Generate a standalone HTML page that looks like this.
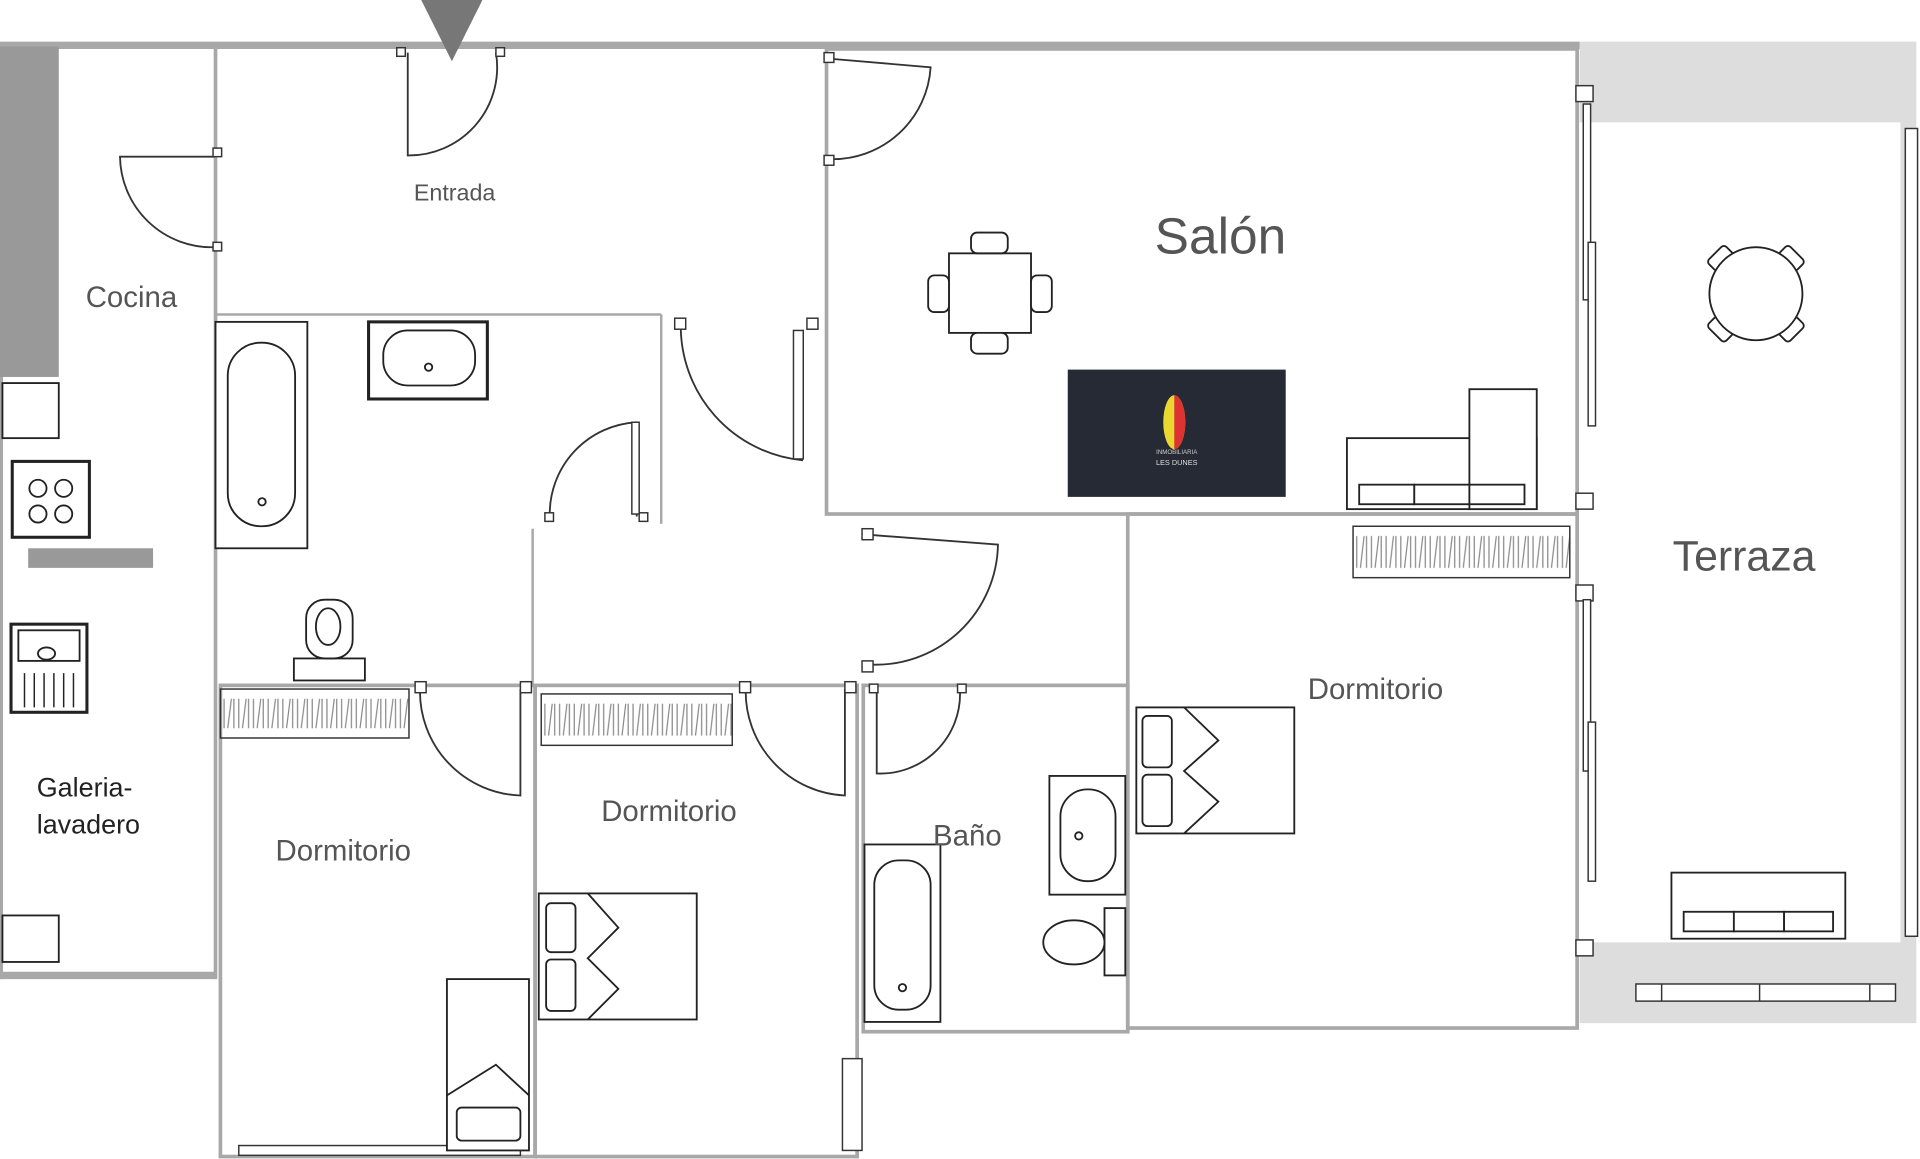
<!DOCTYPE html>
<html><head><meta charset="utf-8"><style>
html,body{margin:0;padding:0;background:#fff;}
svg{display:block}
text{font-family:"Liberation Sans",sans-serif;fill:#555}
</style></head><body>
<svg width="1920" height="1159" viewBox="0 0 1568 947" preserveAspectRatio="none" xmlns="http://www.w3.org/2000/svg">
<defs>
<pattern id="zz1" x="180" y="563" width="12" height="40" patternUnits="userSpaceOnUse">
<path d="M3 8 L3 32 M6 32 L9 8 M11 8 L11 32" stroke="#888" stroke-width="1" fill="none"/>
</pattern>
<pattern id="zz2" x="442" y="567" width="12" height="42" patternUnits="userSpaceOnUse">
<path d="M3 8 L3 34 M6 34 L9 8 M11 8 L11 34" stroke="#888" stroke-width="1" fill="none"/>
</pattern>
<pattern id="zz3" x="1105" y="430" width="12" height="42" patternUnits="userSpaceOnUse">
<path d="M3 8 L3 34 M6 34 L9 8 M11 8 L11 34" stroke="#888" stroke-width="1" fill="none"/>
</pattern>
</defs>
<rect x="1290" y="34" width="275" height="802" fill="#ddd"/>
<rect x="1305" y="100" width="247" height="670" fill="#fff"/>
<rect x="1290" y="100" width="15" height="670" fill="#fff"/>
<g fill="none" stroke="#a8a8a8" stroke-width="3">
<line x1="0" y1="37" x2="1290" y2="37" stroke-width="6"/>
<rect x="675" y="40" width="613" height="380"/>
<rect x="921" y="420" width="367" height="420"/>
<rect x="705" y="560" width="216" height="283"/>
<rect x="437" y="560" width="263" height="385"/>
<rect x="180" y="560" width="257" height="385"/>
<line x1="176" y1="37" x2="176" y2="800"/>
<line x1="0" y1="797" x2="176" y2="797" stroke-width="6"/>
<line x1="1" y1="37" x2="1" y2="800"/>
<line x1="176" y1="257" x2="540" y2="257" stroke-width="2"/>
<line x1="540" y1="257" x2="540" y2="428" stroke-width="2"/>
<line x1="435" y1="432" x2="435" y2="560" stroke-width="2"/>
<line x1="705" y1="560" x2="921" y2="560" stroke-width="2"/>
</g>
<rect x="0" y="38" width="48" height="270" fill="#999"/>
<rect x="23" y="448" width="102" height="16" fill="#999"/>
<polygon points="344,0 394,0 369,50" fill="#777"/>
<g fill="none" stroke="#333" stroke-width="1.5">
<path d="M333 43 L333 127 A72 72 0 0 0 405 43"/>
<path d="M175 128 L98 128 A75 75 0 0 0 175 202"/>
<path d="M678 48 L760 55 A80 80 0 0 1 678 130"/>
<path d="M556 264 A110 110 0 0 0 655 376 L655 270"/>
<path d="M520 345 L520 422 M520 345 A75 75 0 0 0 449 422"/>
<path d="M710 437 L815 445 A100 100 0 0 1 710 543"/>
<path d="M343 563 A85 85 0 0 0 425 650 L425 563"/>
<path d="M609 563 A85 85 0 0 0 690 650 L690 563"/>
<path d="M716 565 L716 632 A65 65 0 0 0 784 565"/>
</g>
<g fill="#fff" stroke="#333" stroke-width="1.2">
<rect x="324" y="39" width="7" height="7"/><rect x="405" y="39" width="7" height="7"/>
<rect x="174" y="121" width="7" height="7"/><rect x="174" y="198" width="7" height="7"/>
<rect x="673" y="43" width="8" height="8"/><rect x="673" y="127" width="8" height="8"/>
<rect x="551" y="260" width="9" height="9"/><rect x="659" y="260" width="9" height="9"/>
<rect x="445" y="419" width="7" height="7"/><rect x="522" y="419" width="7" height="7"/>
<rect x="704" y="432" width="9" height="9"/><rect x="704" y="540" width="9" height="9"/>
<rect x="339" y="557" width="9" height="9"/><rect x="425" y="557" width="9" height="9"/>
<rect x="604" y="557" width="9" height="9"/><rect x="690" y="557" width="9" height="9"/>
<rect x="710" y="559" width="7" height="7"/><rect x="782" y="559" width="7" height="7"/>
<rect x="1287" y="70" width="14" height="13"/><rect x="1287" y="403" width="14" height="13"/>
<rect x="1287" y="478" width="14" height="13"/><rect x="1287" y="768" width="14" height="13"/>
<rect x="648" y="270" width="8" height="105"/><rect x="516" y="345" width="6" height="75"/>
<rect x="1293" y="85" width="6" height="160"/><rect x="1297" y="198" width="6" height="150"/>
<rect x="1293" y="490" width="6" height="140"/><rect x="1297" y="590" width="6" height="130"/>
<rect x="1556" y="105" width="10" height="660"/>
<rect x="1336" y="804" width="212" height="14"/>
<line x1="1357" y1="804" x2="1357" y2="818"/><line x1="1437" y1="804" x2="1437" y2="818"/><line x1="1527" y1="804" x2="1527" y2="818"/>
<rect x="688" y="865" width="16" height="75"/>
<rect x="195" y="936" width="230" height="8"/>
</g>
<g stroke="#333" stroke-width="1.2">
<rect x="180" y="563" width="154" height="40" fill="url(#zz1)"/>
<rect x="442" y="567" width="156" height="42" fill="url(#zz2)"/>
<rect x="1105" y="430" width="177" height="42" fill="url(#zz3)"/>
</g>
<g fill="#fff" stroke="#222" stroke-width="1.5">
<rect x="176" y="263" width="75" height="185"/><rect x="186" y="280" width="55" height="150" rx="27"/>
<circle cx="214" cy="410" r="3"/>
<rect x="301" y="263" width="97" height="63" stroke-width="2.5"/><rect x="313" y="270" width="75" height="45" rx="20"/><circle cx="350" cy="300" r="3"/>
<rect x="240" y="538" width="58" height="18"/><rect x="250" y="490" width="38" height="48" rx="15"/><ellipse cx="268" cy="512" rx="10" ry="15"/>
<rect x="775" y="207" width="67" height="65"/><rect x="793" y="190" width="30" height="17" rx="5"/><rect x="793" y="272" width="30" height="17" rx="5"/>
<rect x="758" y="225" width="17" height="30" rx="5"/><rect x="842" y="225" width="17" height="30" rx="5"/>
<rect x="1100" y="358" width="155" height="58"/><rect x="1200" y="318" width="55" height="98"/>
<rect x="1110" y="396" width="45" height="16"/><rect x="1155" y="396" width="45" height="16"/><rect x="1200" y="396" width="45" height="16"/>
<g transform="rotate(45 1434 240)">
<rect x="1424" y="193" width="20" height="12" rx="3"/><rect x="1424" y="275" width="20" height="12" rx="3"/>
<rect x="1387" y="230" width="12" height="20" rx="3"/><rect x="1469" y="230" width="12" height="20" rx="3"/>
</g>
<circle cx="1434" cy="240" r="38"/>
<rect x="1365" y="713" width="142" height="54"/>
<rect x="1375" y="745" width="41" height="16"/><rect x="1416" y="745" width="41" height="16"/><rect x="1457" y="745" width="40" height="16"/>
<rect x="928" y="578" width="129" height="103"/><rect x="933" y="585" width="24" height="42" rx="4"/><rect x="933" y="633" width="24" height="42" rx="4"/><path d="M967 578 L995 605 L967 630 L995 655 L967 681"/>
<rect x="440" y="730" width="129" height="103"/><rect x="446" y="738" width="24" height="40" rx="4"/><rect x="446" y="784" width="24" height="42" rx="4"/><path d="M480 730 L505 758 L480 783 L505 808 L480 833"/>
<rect x="365" y="800" width="67" height="140"/><rect x="373" y="905" width="52" height="27" rx="4"/><path d="M365 895 L405 870 L432 895"/>
<rect x="706" y="690" width="62" height="145"/><rect x="714" y="703" width="46" height="122" rx="20"/><circle cx="737" cy="807" r="3"/>
<rect x="857" y="634" width="62" height="97"/><rect x="866" y="645" width="45" height="75" rx="22"/><circle cx="881" cy="683" r="3"/>
<rect x="902" y="742" width="17" height="55"/><ellipse cx="877" cy="770" rx="25" ry="18"/>
<rect x="10" y="377" width="63" height="62" stroke-width="2.5"/><circle cx="31" cy="399" r="7"/><circle cx="52" cy="399" r="7"/><circle cx="31" cy="420" r="7"/><circle cx="52" cy="420" r="7"/>
<rect x="9" y="510" width="62" height="72" stroke-width="2.5"/><rect x="15" y="515" width="50" height="25"/><ellipse cx="38" cy="534" rx="7" ry="5"/>
<rect x="2" y="313" width="46" height="45"/><rect x="2" y="748" width="46" height="38"/>
</g>
<g stroke="#222" stroke-width="1.2"><path d="M20 550 V578 M28 550 V578 M36 550 V578 M44 550 V578 M52 550 V578 M60 550 V578"/></g>
<rect x="872" y="302" width="178" height="104" fill="#252a35"/>
<ellipse cx="959" cy="345" rx="9" ry="22" fill="#e8d830"/>
<path d="M959 323 A9 22 0 0 1 959 367 Z" fill="#d33"/>
<text x="961" y="371" font-size="5" text-anchor="middle" style="fill:#ccc">INMOBILIARIA</text>
<text x="961" y="380" font-size="6" text-anchor="middle" style="fill:#ddd">LES DUNES</text>
<text x="338" y="164" font-size="19">Entrada</text>
<text x="70" y="251" font-size="24">Cocina</text>
<text x="943" y="207" font-size="42">Salón</text>
<text x="1366" y="466" font-size="35">Terraza</text>
<text x="1068" y="571" font-size="24">Dormitorio</text>
<text x="491" y="671" font-size="24">Dormitorio</text>
<text x="225" y="703" font-size="24">Dormitorio</text>
<text x="762" y="691" font-size="24">Baño</text>
<text x="30" y="651" font-size="22" style="fill:#222">Galeria-</text>
<text x="30" y="681" font-size="22" style="fill:#222">lavadero</text>
</svg>
</body></html>
